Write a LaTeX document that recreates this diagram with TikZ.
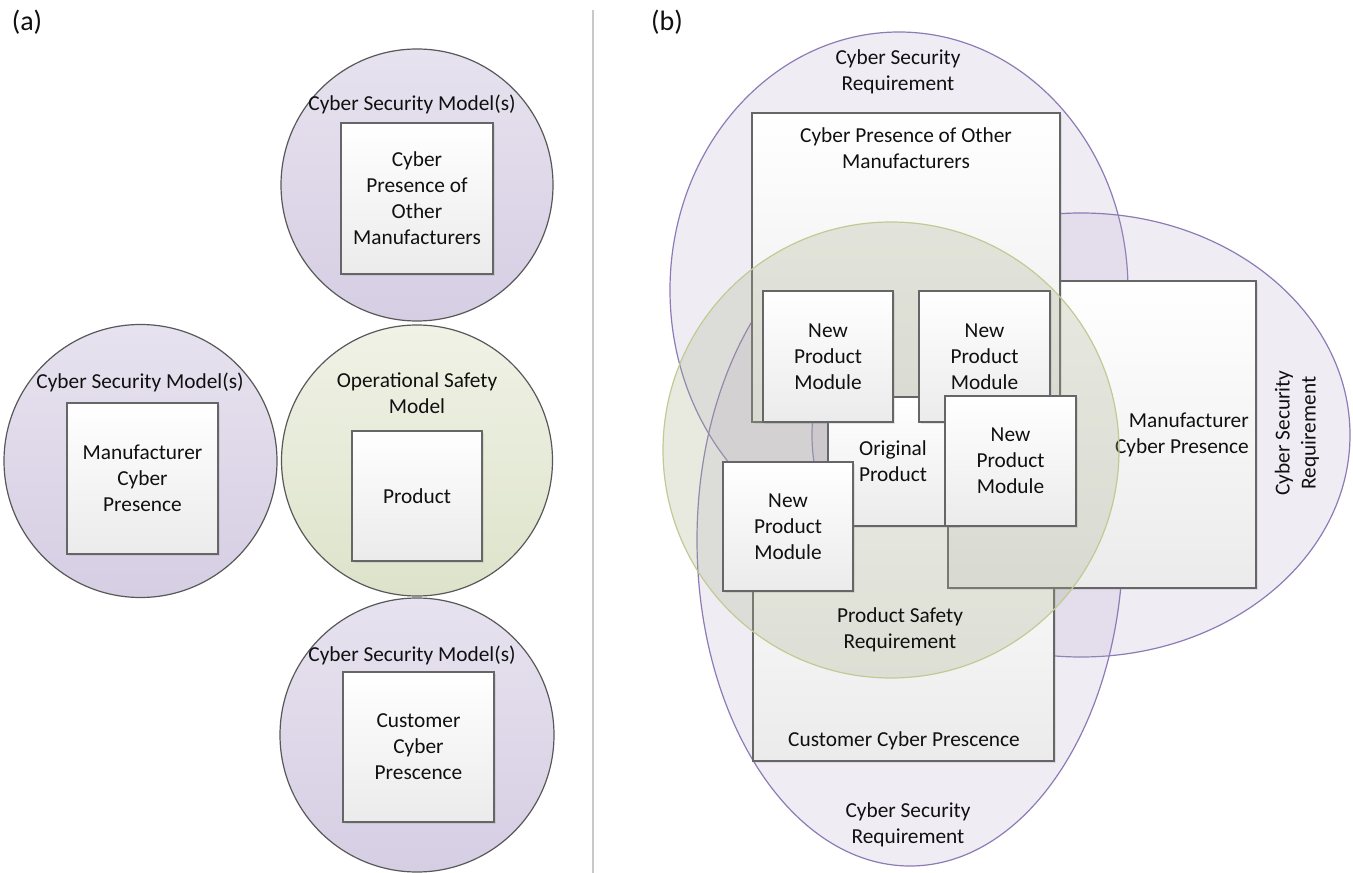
\documentclass[tikz,border=0pt]{standalone}
\usepackage{fontspec}
\setmainfont{Carlito}
\usetikzlibrary{shapes.geometric,shadows}

\definecolor{txt}{HTML}{101010}
\definecolor{boxline}{HTML}{666666}
\definecolor{boxgrey}{HTML}{EBEBEB}
\definecolor{ringline}{HTML}{585858}
\definecolor{lavtop}{HTML}{E7E2EF}
\definecolor{lavbot}{HTML}{D6CEE3}
\definecolor{olivetop}{HTML}{F0F2E6}
\definecolor{olivebot}{HTML}{DDE3CA}
\definecolor{reqfill}{HTML}{B3A2C7}
\definecolor{reqline}{HTML}{8C7BB5}
\definecolor{safefill}{HTML}{A9B08E}
\definecolor{safeline}{HTML}{BFCB93}
\definecolor{sepline}{HTML}{C8C8C8}

\tikzset{
  every node/.style={font=\fontsize{16}{19.5}\selectfont, text=txt, align=center, inner sep=0pt},
  sz/.style 2 args={minimum width=#1*0.75pt, minimum height=#2*0.75pt},
  dia/.style={minimum size=#1*0.75pt},
  box/.style={rectangle, draw=boxline, line width=1.1pt, top color=white, bottom color=boxgrey,
    drop shadow={shadow xshift=1.3pt, shadow yshift=-1.3pt, opacity=0.18}},
  securityring/.style={circle, draw=ringline, line width=0.9pt, top color=lavtop, bottom color=lavbot},
  safetyring/.style={circle, draw=ringline, line width=0.9pt, top color=olivetop, bottom color=olivebot},
  requirement/.style={ellipse, draw=reqline, line width=0.9pt, fill=reqfill, fill opacity=0.2},
  safetyzone/.style={circle, draw=safeline, line width=0.9pt, fill=safefill, fill opacity=0.27},
  panel/.style={font=\fontsize{21}{24}\selectfont}
}

\begin{document}
\begin{tikzpicture}[x=0.75pt, y=-0.75pt]
\useasboundingbox (0,0) rectangle (1353,873);

% ---------- panel (a): separate models ----------
\node[panel] (pa) at (27,22) {(a)};
\node[panel] (pb) at (667,22) {(b)};

\coordinate (septop) at (593,10);
\coordinate (sepbot) at (593,873);
\draw[sepline, line width=1.1pt] (septop) -- (sepbot);

\node[securityring, dia=272] (ringtop) at (417,185) {};
\node[safetyring, dia=271] (ringmid) at (417,460.5) {};
\node[securityring, dia=274] (ringbot) at (417,735) {};
\node[securityring, dia=273] (ringleft) at (140.5,461) {};

\node (lbltop) at (412,104) {Cyber Security Model(s)};
\node (lblleft) at (140,382) {Cyber Security Model(s)};
\node (lblmid) at (417,393) {Operational Safety\\Model};
\node (lblbot) at (412,655) {Cyber Security Model(s)};

\node[box, sz={152}{151}] (sqtop) at (417,198.5) {Cyber\\Presence of\\Other\\Manufacturers};
\node[box, sz={151}{151}] (sqleft) at (142.5,478.5) {Manufacturer\\Cyber\\Presence};
\node[box, sz={130}{130}] (sqmid) at (417,496) {Product};
\node[box, sz={151}{150}] (sqbot) at (418.5,747) {Customer\\Cyber\\Prescence};

% ---------- panel (b): overlapping requirements ----------
\node[requirement, sz={458}{516}] (reqtop) at (899,290) {};
\node[requirement, sz={538}{444}] (reqright) at (1081,435) {};
\node[requirement, sz={426}{652}] (reqbot) at (910,540) {};

\node (reqtoplbl) at (898,72) {Cyber Security\\Requirement};
\node[rotate=90] (reqrightlbl) at (1297,433) {Cyber Security\\Requirement};
\node (reqbotlbl) at (908,825) {Cyber Security\\Requirement};

\node[box, sz={301}{291}] (customer) at (903.5,615.5) {};
\node (customerlbl) at (904,741) {Customer Cyber Prescence};

\node[box, sz={308}{307}] (manufacturer) at (1102,434.5) {};
\node[anchor=east, align=right] (manufacturerlbl) at (1249,435) {Manufacturer\\Cyber Presence};

\node[box, sz={308}{309}] (others) at (906,267.5) {};
\node (otherslbl) at (906,148) {Cyber Presence of Other\\Manufacturers};

\node[safetyzone, dia=456] (safety) at (891,450) {};
\node (safetylbl) at (900,630) {Product Safety\\Requirement};

\node[box, sz={130}{129}] (original) at (893,461.5) {Original\\Product};
\node[box, sz={130}{131}] (modtl) at (828,356.5) {New\\Product\\Module};
\node[box, sz={131}{131}] (modtr) at (984.5,356.5) {New\\Product\\Module};
\node[box, sz={130}{129}] (modbl) at (788,526.5) {New\\Product\\Module};
\node[box, sz={131}{130}] (modr) at (1010.5,461) {New\\Product\\Module};
\end{tikzpicture}
\end{document}
